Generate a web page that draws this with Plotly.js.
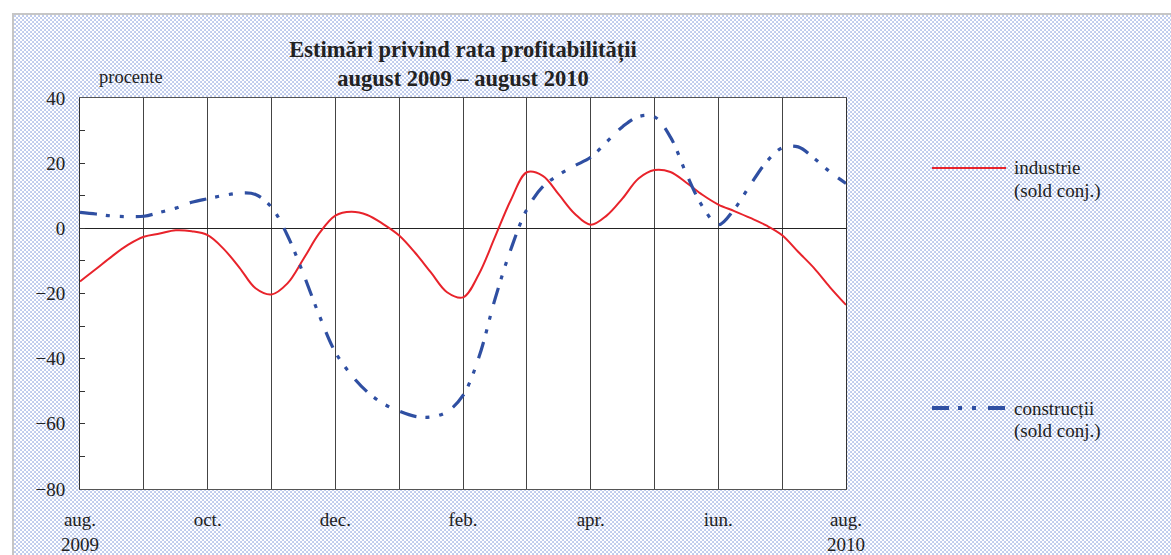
<!DOCTYPE html>
<html>
<head>
<meta charset="utf-8">
<script src="https://cdn.plot.ly/plotly-3.0.1.min.js"></script>
<style>
  html, body { margin:0; padding:0; background:#fff; width:1171px; height:555px; overflow:hidden; }
  #frame {
    position:absolute; left:12px; top:13px; width:1200px; height:600px;
    border-top:2px solid #c6c6c6; border-left:2px solid #c6c6c6;
    background-color:#fff;
    background-image:url("data:image/svg+xml,%3Csvg xmlns='http://www.w3.org/2000/svg' width='4' height='4'%3E%3Crect x='0.4' y='0.4' width='1.25' height='1.25' fill='%236080d2'/%3E%3Crect x='2.4' y='2.4' width='1.25' height='1.25' fill='%236080d2'/%3E%3C/svg%3E");
  }
  #chart { position:absolute; left:0; top:0; width:1171px; height:555px; }
</style>
</head>
<body>
<div id="frame"></div>
<div id="chart"></div>
<script>
// ---- data (month index: 0 = aug. 2009 ... 12 = aug. 2010, read weekly) ----
const monthPos = [0,0.25,0.5,0.75,1,1.25,1.5,1.75,2,2.25,2.5,2.75,3,3.25,3.5,3.75,4,4.25,4.5,4.75,5,5.25,5.5,5.75,6,6.25,6.5,6.75,7,7.25,7.5,7.75,8,8.25,8.5,8.75,9,9.25,9.5,9.75,10,10.25,10.5,10.75,11,11.25,11.5,11.75,12];
const industrie = [-16.3,-12.5,-8.6,-5.1,-2.6,-1.6,-0.6,-0.9,-2.1,-6.3,-12.1,-18.4,-20.3,-16.9,-9.4,-1.5,3.9,5.1,4.1,1.3,-2.2,-7.5,-13.6,-19.6,-21.2,-14.0,-2.7,8.7,17.2,16.1,10.4,4.5,1.1,3.9,9.2,15.3,17.9,17.3,14.0,10.3,7.3,5.3,3.2,0.9,-2.1,-7.2,-12.2,-18.1,-23.5];
const constructii = [4.9,4.4,3.8,3.6,3.7,4.9,6.2,8.0,9.1,10.1,10.8,10.4,6.5,-2.2,-14.0,-26.8,-38.0,-45.0,-50.2,-53.8,-56.1,-57.7,-57.9,-56.3,-51.3,-39.5,-21.8,-6.4,5.8,12.8,16.4,19.2,21.8,26.5,31.2,34.3,34.2,28.0,16.7,6.8,1.1,5.9,13.3,20.3,24.7,25.0,21.5,17.3,13.8];

const monthTicks = [0,1,2,3,4,5,6,7,8,9,10,11,12];
const monthLabels = ['aug.','','oct.','','dec.','','feb.','','apr.','','iun.','','aug.'];
const yearLabels = ['2009','2010'];
const yearPos = [0,12];
const yTicks = [-80,-70,-60,-50,-40,-30,-20,-10,0,10,20,30,40];
const yLabels = ['\u221280','','\u221260','','\u221240','','\u221220','','0','','20','','40'];
const titleLines = ['Estimări privind rata profitabilității','august 2009 – august 2010'];
const unitLabel = 'procente';
const seriesNames = ['industrie','construcții'];
const seriesNote = '(sold conj.)';

const FONT = '"Liberation Serif", "Times New Roman", serif';
const RED = '#e8232b';
const BLUE = '#2f4fa2';
const BLUE_DASH = '17px,9px,4px,10px,4px,12px';

const traces = [
  { x: monthPos, y: industrie, type:'scatter', mode:'lines', name: seriesNames[0],
    line:{ color:RED, width:2, shape:'spline', smoothing:1 }, showlegend:false, hoverinfo:'skip' },
  { x: monthPos, y: constructii, type:'scatter', mode:'lines', name: seriesNames[1],
    line:{ color:BLUE, width:3.2, shape:'spline', smoothing:1, dash:BLUE_DASH }, showlegend:false, hoverinfo:'skip' }
];

// legend placement (paper coords)
const lgX0 = 1.1123, lgX1 = 1.2089, lgTx = 1.2167;
const lgY = [0.821, 0.207];
const lgLine2 = 0.059;

const annotations = [
  { xref:'paper', yref:'paper', x:0.0666, y:1.054, text:unitLabel, showarrow:false,
    xanchor:'center', yanchor:'middle', font:{family:FONT, size:18.5, color:'#222'} }
];
yearLabels.forEach((t,i) => annotations.push({
  xref:'x', yref:'paper', x:yearPos[i], y:-0.141, text:t, showarrow:false,
  xanchor:'center', yanchor:'middle', font:{family:FONT, size:19, color:'#222'} }));
seriesNames.forEach((n,i) => {
  annotations.push({ xref:'paper', yref:'paper', x:lgTx, y:lgY[i], text:n, showarrow:false,
    xanchor:'left', yanchor:'middle', font:{family:FONT, size:19, color:'#222'} });
  annotations.push({ xref:'paper', yref:'paper', x:lgTx, y:lgY[i]-lgLine2, text:seriesNote, showarrow:false,
    xanchor:'left', yanchor:'middle', font:{family:FONT, size:19, color:'#222'} });
});

const shapes = [
  { type:'line', xref:'paper', yref:'paper', x0:lgX0, x1:lgX1, y0:lgY[0], y1:lgY[0], line:{color:RED, width:2} },
  { type:'line', xref:'paper', yref:'paper', x0:lgX0, x1:lgX1, y0:lgY[1], y1:lgY[1], line:{color:BLUE, width:4, dash:BLUE_DASH} }
];

const layout = {
  width:1171, height:555,
  margin:{ l:80, r:325, t:98, b:66 },
  paper_bgcolor:'rgba(0,0,0,0)',
  plot_bgcolor:'#ffffff',
  title:{ text: titleLines.join('<br>'), x:0.5, xref:'paper', xanchor:'center',
          y:0.898, yref:'container', yanchor:'top',
          font:{ family:FONT, size:22.5, color:'#222', weight:'bold' } },
  xaxis:{ range:[0,12], tickmode:'array', tickvals:monthTicks, ticktext:monthLabels,
          showgrid:true, gridcolor:'#444', gridwidth:1, zeroline:false,
          showline:true, linecolor:'#555', linewidth:1, mirror:true,
          ticks:'', ticklabelstandoff:13, fixedrange:true,
          tickfont:{ family:FONT, size:19, color:'#222' } },
  yaxis:{ range:[-80,40], tickmode:'array', tickvals:yTicks, ticktext:yLabels,
          showgrid:false, zeroline:true, zerolinecolor:'#222', zerolinewidth:1,
          showline:true, linecolor:'#333', linewidth:1, mirror:true,
          ticks:'inside', ticklen:5, tickcolor:'#333', ticklabelstandoff:10, fixedrange:true,
          tickfont:{ family:FONT, size:19, color:'#222' } },
  annotations: annotations,
  shapes: shapes
};

Plotly.newPlot('chart', traces, layout, { staticPlot:true, displayModeBar:false });
</script>
</body>
</html>
